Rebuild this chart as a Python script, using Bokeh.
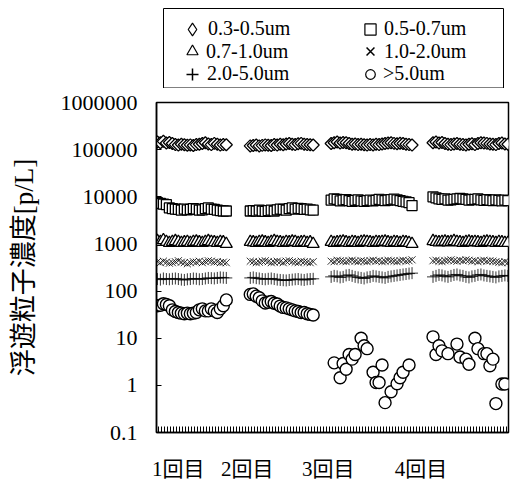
import math
import numpy as np
from bokeh.plotting import figure
from bokeh.layouts import column
from bokeh.models import (Range1d, FixedTicker, CustomJSTickFormatter, Legend,
                          LegendItem, ColumnDataSource, BoxAnnotation)
from bokeh.embed import file_html
from bokeh.resources import INLINE

nan = float("nan")

# ---------------- data ----------------
run_labels = ["1回目", "2回目", "3回目", "4回目"]
run_first_sample = [0, 31, 58, 92]
run_sample_count = [24, 22, 28, 26]

size_labels = ["0.3-0.5um", "0.5-0.7um", "0.7-1.0um", "1.0-2.0um", "2.0-5.0um", ">5.0um"]

c_03_05 = [145000, 140000, 150000, 138000, 142000, 135000, 128000, 125000, 130000, 127000, 124000, 126000,
           122000, 128000, 130000, 135000, 140000, 132000, 128000, 136000, 130000, 125000, 128000, 127000,
           120000, 122000, 125000, 120000, 123000, 126000, 124000, 122000, 128000, 125000, 130000, 127000,
           132000, 135000, 130000, 128000, 133000, 136000, 130000, 128000, 127000, 125000,
           135000, 140000, 145000, 138000, 142000, 140000, 135000, 130000, 132000, 128000, 130000, 127000,
           125000, 128000, 126000, 130000, 128000, 132000, 135000, 138000, 140000, 136000, 133000, 137000,
           135000, 130000, 128000, 125000,
           140000, 145000, 138000, 142000, 135000, 130000, 128000, 132000, 135000, 130000, 128000, 126000,
           130000, 133000, 128000, 135000, 140000, 138000, 136000, 132000, 130000, 128000, 135000, 138000,
           132000, 130000]

c_05_07 = [7500, 7200, 7000, 6800, 5800, 5600, 5500, 5400, 5200, 5500, 5300, 5400,
           5600, 5500, 5200, 5300, 5600, 5800, 5500, 5400, 5200, 5100, 5000, 5000,
           5000, 5100, 5000, 5200, 5000, 4900, 5100, 5200, 5000, 5300, 5500, 5400,
           5200, 5600, 5800, 5500, 5700, 5600, 5400, 5500, 5300, 5200,
           8500, 9000, 8800, 8200, 8500, 8700, 8300, 8000, 8400, 8600, 8200, 8000,
           8300, 8500, 8200, 8400, 8800, 8600, 8300, 8500, 8700, 8900, 8600, 8300,
           8000, 7800, 7500, 6500,
           10000, 9500, 9000, 8800, 9000, 8500, 8600, 8800, 9000, 9200, 9000, 8800,
           8500, 8700, 8800, 9000, 8600, 8400, 8700, 8500, 8300, 8600, 8400, 8200,
           8500, 8300]

c_07_10 = [1150, 1100, 1200, 1100, 1050, 1100, 1150, 1100, 1050, 1080, 1100, 1050,
           1100, 1120, 1080, 1050, 1100, 1150, 1100, 1080, 1050, 1100, 1080, 1000,
           1100, 1080, 1050, 1100, 1120, 1080, 1050, 1100, 1150, 1100, 1080, 1050,
           1100, 1080, 1120, 1100, 1050, 1080, 1100, 1050, 1080, 1000,
           1100, 1050, 1080, 1100, 1120, 1080, 1050, 1100, 1080, 1050, 1100, 1120,
           1100, 1080, 1050, 1100, 1080, 1100, 1120, 1080, 1050, 1100, 1080, 1050,
           1100, 1080, 1050, 1000,
           1150, 1100, 1080, 1100, 1120, 1080, 1100, 1150, 1100, 1080, 1050, 1100,
           1120, 1080, 1100, 1080, 1050, 1100, 1120, 1100, 1080, 1050, 1100, 1080,
           1050, 1050]

c_10_20 = [420, 400, 430, 410, 390, 400, 420, 440, 410, 400, 380, 400,
           420, 410, 430, 400, 420, 440, 430, 410, 420, 400, 410, 400,
           430, 420, 400, 410, 430, 440, 420, 400, 410, 430, 420, 400,
           430, 440, 420, 410, 400, 430, 420, 410, 400, 420,
           430, 420, 450, 440, 430, 420, 440, 450, 430, 420, 440, 430,
           420, 440, 450, 430, 440, 420, 430, 450, 440, 430, 420, 440,
           450, 430, 440, 460,
           440, 450, 430, 420, 440, 450, 460, 440, 430, 450, 440, 460,
           450, 430, 440, 420, 440, 450, 430, 440, 430, 420, 410, 400,
           420, 400]

c_20_50 = [180, 175, 185, 180, 178, 182, 185, 180, 175, 172, 178, 180,
           185, 182, 178, 180, 185, 190, 188, 185, 190, 195, 192, 190,
           190, 195, 188, 185, 180, 178, 182, 185, 180, 175, 172, 170,
           168, 172, 175, 178, 180, 175, 172, 178, 180, 182,
           200, 210, 205, 195, 200, 215, 220, 210, 200, 195, 190, 185,
           195, 200, 210, 205, 200, 195, 190, 200, 205, 210, 215, 220,
           225, 230, 235, 240,
           200, 210, 220, 215, 205, 200, 210, 220, 225, 215, 210, 200,
           195, 205, 210, 220, 225, 215, 210, 205, 200, 195, 205, 210,
           215, 210]

c_50_up = [49, 50, 54, 52, 49, 40, 37, 35, 34, 33, 34, 33,
           34, 35, 40, 42, 38, 38, 42, 38, 35, 42, 49, 65,
           85, 87, 78, 72, 62, 56, 58, 60, 55, 53, 48, 45,
           44, 42, 40, 38, 37, 35, 35, 33, 32, 31,
           nan, 3.0, nan, 1.45, 2.9, 2.2, 4.5, 3.6, 4.5, nan, 10, 6.9,
           6.0, nan, 1.9, 1.15, 1.15, 2.7, 0.43, nan, 0.73, nan, 1.08, 1.45,
           1.9, nan, 2.7, nan,
           10.7, 4.5, 6.9, 5.4, nan, 4.7, nan, nan, 7.5, 4.0, nan, 3.6,
           2.8, nan, 10, 6.0, nan, 4.7, 4.7, 2.6, 3.6, 0.41, nan, 1.07,
           1.07, nan]

y_ticks = [0.1, 1, 10, 100, 1000, 10000, 100000, 1000000]

samples = np.concatenate([np.arange(s, s + n) for s, n in zip(run_first_sample, run_sample_count)])

# ---------------- layout / style ----------------
SERIF = "Liberation Serif"
MIXED = "'Liberation Serif', 'Noto Sans CJK JP'"
run_label_at = [7, 30, 57, 88]
FRAME_L, FRAME_R = 156, 2
KEY_H = 88

# values, plot marker, plot size, angle, plot line width, key marker, key glyph box, key line width
series = [
    (c_03_05, "square", 8.5, math.pi / 4, 1.3, "diamond", 32, 1.2),
    (c_05_07, "square", 10, 0.0, 1.3, "square", 28, 1.2),
    (c_07_10, "triangle", 12, 0.0, 1.3, "triangle", 28, 1.2),
    (c_10_20, "x", 10, 0.0, 0.8, "x", 28, 1.5),
    (c_20_50, "cross", 12, 0.0, 0.8, "cross", 30, 1.5),
    (c_50_up, "circle", 12, 0.0, 1.4, "circle", 24, 1.2),
]

# main chart
p = figure(width=510, height=486 - KEY_H,
           x_range=Range1d(-0.3, 117.2), y_range=Range1d(0.1, 1e6),
           y_axis_type="log", output_backend="svg", toolbar_location=None,
           min_border_left=FRAME_L, min_border_right=FRAME_R, min_border_top=14, min_border_bottom=54)
p.background_fill_color = "white"
p.border_fill_color = "white"
p.grid.visible = False
p.outline_line_color = "black"
p.outline_line_width = 1.5

p.yaxis.ticker = FixedTicker(ticks=y_ticks)
p.yaxis.formatter = CustomJSTickFormatter(code="return tick.toString();")
p.yaxis.major_tick_in = 5
p.yaxis.major_tick_out = 0
p.yaxis.minor_tick_in = 0
p.yaxis.minor_tick_out = 0
p.yaxis.major_label_standoff = 19
p.yaxis.major_label_text_font = SERIF
p.yaxis.major_label_text_font_size = "22px"
p.yaxis.major_label_text_color = "black"
p.yaxis.axis_line_width = 1.5
p.yaxis.axis_label = "浮遊粒子濃度[p/L]"
p.yaxis.axis_label_text_font = MIXED
p.yaxis.axis_label_text_font_size = "27px"
p.yaxis.axis_label_text_font_style = "normal"
p.yaxis.axis_label_text_color = "black"
p.yaxis.axis_label_standoff = 19

p.xaxis.ticker = FixedTicker(ticks=run_label_at,
                             minor_ticks=[i + 0.5 for i in range(-1, 118)])
p.xaxis.major_label_overrides = {pos: lab for pos, lab in zip(run_label_at, run_labels)}
p.xaxis.major_tick_in = 0
p.xaxis.major_tick_out = 0
p.xaxis.minor_tick_in = 6
p.xaxis.minor_tick_out = 0
p.xaxis.major_label_standoff = 24
p.xaxis.major_label_text_font = MIXED
p.xaxis.major_label_text_font_size = "21px"
p.xaxis.major_label_text_color = "black"
p.xaxis.axis_line_width = 1.5

for vals, marker, size, ang, lw, _km, _kg, _klw in series:
    src = ColumnDataSource(dict(x=samples, y=np.array(vals, dtype=float)))
    p.scatter("x", "y", source=src, marker=marker, size=size, angle=ang,
              fill_color="white", line_color="black", line_width=lw)

# legend strip above the chart (frame spans the same columns as the chart's frame;
# its ranges are in page pixels so the key box can be placed directly)
lf = figure(width=510, height=KEY_H, x_range=Range1d(FRAME_L, 510 - FRAME_R), y_range=Range1d(KEY_H, 0),
            output_backend="svg", toolbar_location=None,
            min_border_left=FRAME_L, min_border_right=FRAME_R, min_border_top=0, min_border_bottom=0,
            x_axis_location=None, y_axis_location=None)
lf.grid.visible = False
lf.outline_line_color = None
lf.background_fill_color = "white"
lf.border_fill_color = "white"

lf.add_layout(BoxAnnotation(left=163, right=503, top=8, bottom=87.5, fill_alpha=0,
                            line_color="black", line_width=1, line_alpha=1))

key_renderers = []
for _v, _m, _s, _a, _lw, km, kg, klw in series:
    key_renderers.append(lf.scatter(x=[nan], y=[nan], marker=km, size=10,
                                    fill_color="white", line_color="black", line_width=klw))

TEXT_H = 23
# (series index, glyph centre x, text start x, row centre y)
key_slots = [(0, 192, 203, 28.5), (2, 192, 203, 51), (4, 192, 203, 73.5),
             (1, 370, 383, 28.5), (3, 370, 383, 51), (5, 370, 383, 73.5)]
for idx, gx, tx, cy in key_slots:
    g = series[idx][6]
    item_h = max(g, TEXT_H)
    leg = Legend(items=[LegendItem(label=size_labels[idx], renderers=[key_renderers[idx]])],
                 location=(gx - g / 2 - FRAME_L, KEY_H - (cy + item_h / 2)),
                 glyph_width=g, glyph_height=g, label_standoff=int(round(tx - (gx + g / 2))),
                 padding=0, spacing=0, margin=0, label_height=20,
                 border_line_alpha=0, background_fill_alpha=0,
                 label_text_font=SERIF, label_text_font_size="20px", label_text_color="black")
    lf.add_layout(leg, "center")

layout = column(lf, p, spacing=0)
open("out.html", "w").write(file_html(layout, INLINE))
